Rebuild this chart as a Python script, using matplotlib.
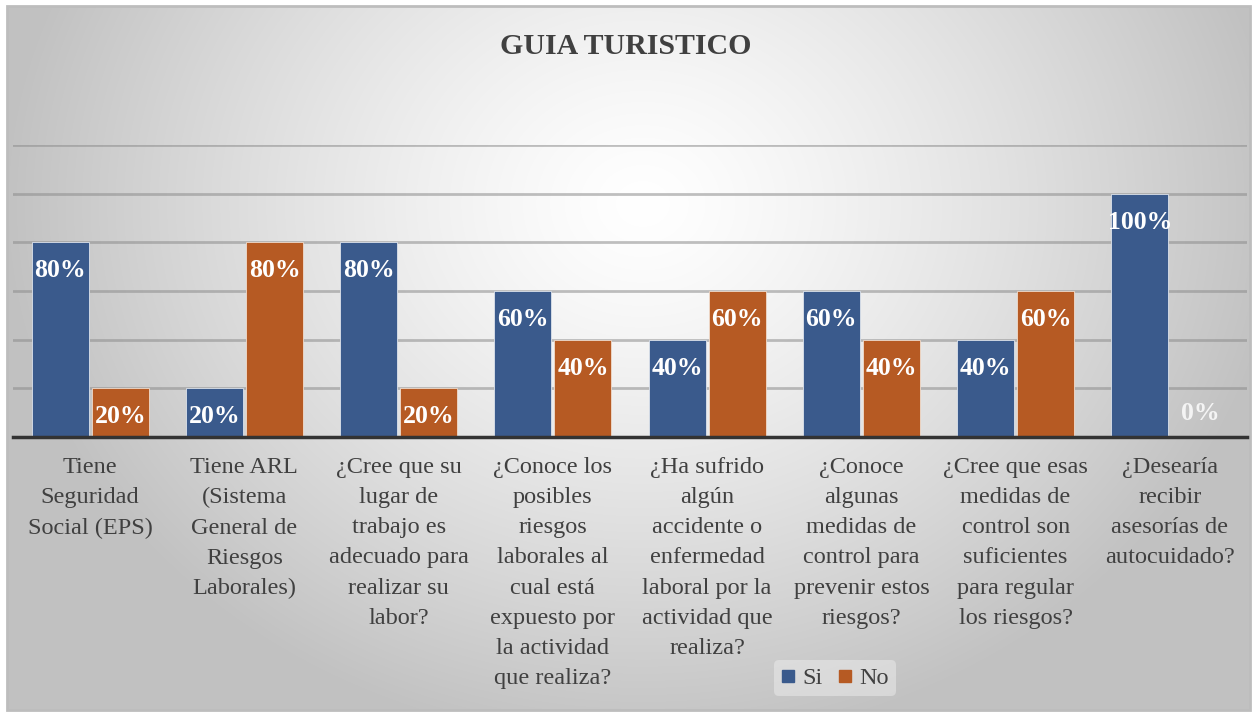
import numpy as np
import matplotlib
matplotlib.use("Agg")
import matplotlib.pyplot as plt
from matplotlib.lines import Line2D
from matplotlib.patches import Rectangle

categories = [
    "Tiene\nSeguridad\nSocial (EPS)",
    "Tiene ARL\n(Sistema\nGeneral de\nRiesgos\nLaborales)",
    "¿Cree que su\nlugar de\ntrabajo es\nadecuado para\nrealizar su\nlabor?",
    "¿Conoce los\nposibles\nriesgos\nlaborales al\ncual está\nexpuesto por\nla actividad\nque realiza?",
    "¿Ha sufrido\nalgún\naccidente o\nenfermedad\nlaboral por la\nactividad que\nrealiza?",
    "¿Conoce\nalgunas\nmedidas de\ncontrol para\nprevenir estos\nriesgos?",
    "¿Cree que esas\nmedidas de\ncontrol son\nsuficientes\npara regular\nlos riesgos?",
    "¿Desearía\nrecibir\nasesorías de\nautocuidado?",
]
si_values = [0.80, 0.20, 0.80, 0.60, 0.40, 0.60, 0.40, 1.00]
no_values = [0.20, 0.80, 0.20, 0.40, 0.60, 0.40, 0.60, 0.00]
series_names = ["Si", "No"]
title = "GUIA TURISTICO"

SI_COLOR = "#3A5A8C"
NO_COLOR = "#B65A23"
TEXT = "#404040"
SERIF = ["Liberation Serif", "DejaVu Serif"]

W, H = 1252, 713
fig = plt.figure(figsize=(W / 100, H / 100), dpi=100)
fig.patch.set_facecolor("white")

# background radial gradient inside frame
bg = fig.add_axes([0, 0, 1, 1], zorder=0)
bg.axis("off")
yy, xx = np.mgrid[0:H, 0:W]
cx, cy = 640, 200
r = np.sqrt(((xx - cx) / 760.0) ** 2 + ((yy - cy) / 650.0) ** 2)
val = np.clip(1.0 - 0.30 * r ** 1.3, 0.76, 1.0)
img = np.dstack([val, val, val])
bg.imshow(img, extent=[7, 1250, 710, 6], aspect="auto", interpolation="bilinear")
bg.add_patch(Rectangle((7, 6), 1243, 704, fill=False, edgecolor="#BDBDBD", linewidth=2))
bg.set_xlim(0, W)
bg.set_ylim(H, 0)

ax = fig.add_axes([13 / W, 1 - 437 / H, (1247 - 13) / W, (437 - 145) / H], zorder=1)
ax.patch.set_alpha(0)
n = len(categories)
x = np.arange(n)
ax.set_xlim(-0.5, n - 0.5)
ax.set_ylim(0, 1.2)

ax.set_yticks(np.arange(0.2, 1.21, 0.2))
ax.yaxis.grid(True, color="#8C8C8C", alpha=0.55, linewidth=2)
ax.set_axisbelow(True)
ax.tick_params(axis="y", left=False, labelleft=False)
for s in ["top", "right", "left"]:
    ax.spines[s].set_visible(False)
ax.spines["bottom"].set_color("#333333")
ax.spines["bottom"].set_linewidth(2.5)

w = 0.37
off = 0.195
b1 = ax.bar(x - off, si_values, w, color=SI_COLOR, edgecolor="#DDE3EC", linewidth=0.6, zorder=2)
b2 = ax.bar(x + off, no_values, w, color=NO_COLOR, edgecolor="#F0DCCD", linewidth=0.6, zorder=2)

for bars, vals in [(b1, si_values), (b2, no_values)]:
    for rect, v in zip(bars, vals):
        xc = rect.get_x() + rect.get_width() / 2
        dy = -20.5 if v > 0 else 17
        ax.annotate(f"{int(round(v * 100))}%", (xc, v), xytext=(0, dy), textcoords="offset points",
                    ha="center", va="center", color="white" if v > 0 else "#F4F4F4",
                    fontsize=18.5, fontweight="bold", family=SERIF, zorder=3)

ax.set_xticks(x)
ax.set_xticklabels(categories, family=SERIF, fontsize=17.5, color=TEXT, linespacing=1.57, va="top")
ax.tick_params(axis="x", bottom=False, pad=11)

fig.text(626 / W, 1 - 46 / H, title, ha="center", va="center", family=SERIF,
         fontsize=21.5, fontweight="bold", color=TEXT)

handles = [Line2D([], [], marker="s", linestyle="none", markersize=8, color=SI_COLOR),
           Line2D([], [], marker="s", linestyle="none", markersize=8, color=NO_COLOR)]
leg = fig.legend(handles, series_names, loc="center", bbox_to_anchor=(835 / W, 1 - 678 / H),
                 ncol=2, frameon=True, prop={"family": SERIF, "size": 17.5},
                 handlelength=0.6, handletextpad=0.3, columnspacing=0.6, borderpad=0.3)
leg.get_frame().set_facecolor("#EDEDED")
leg.get_frame().set_edgecolor("none")
leg.get_frame().set_alpha(0.5)
for t in leg.get_texts():
    t.set_color(TEXT)

fig.savefig("out.png", dpi=100)
